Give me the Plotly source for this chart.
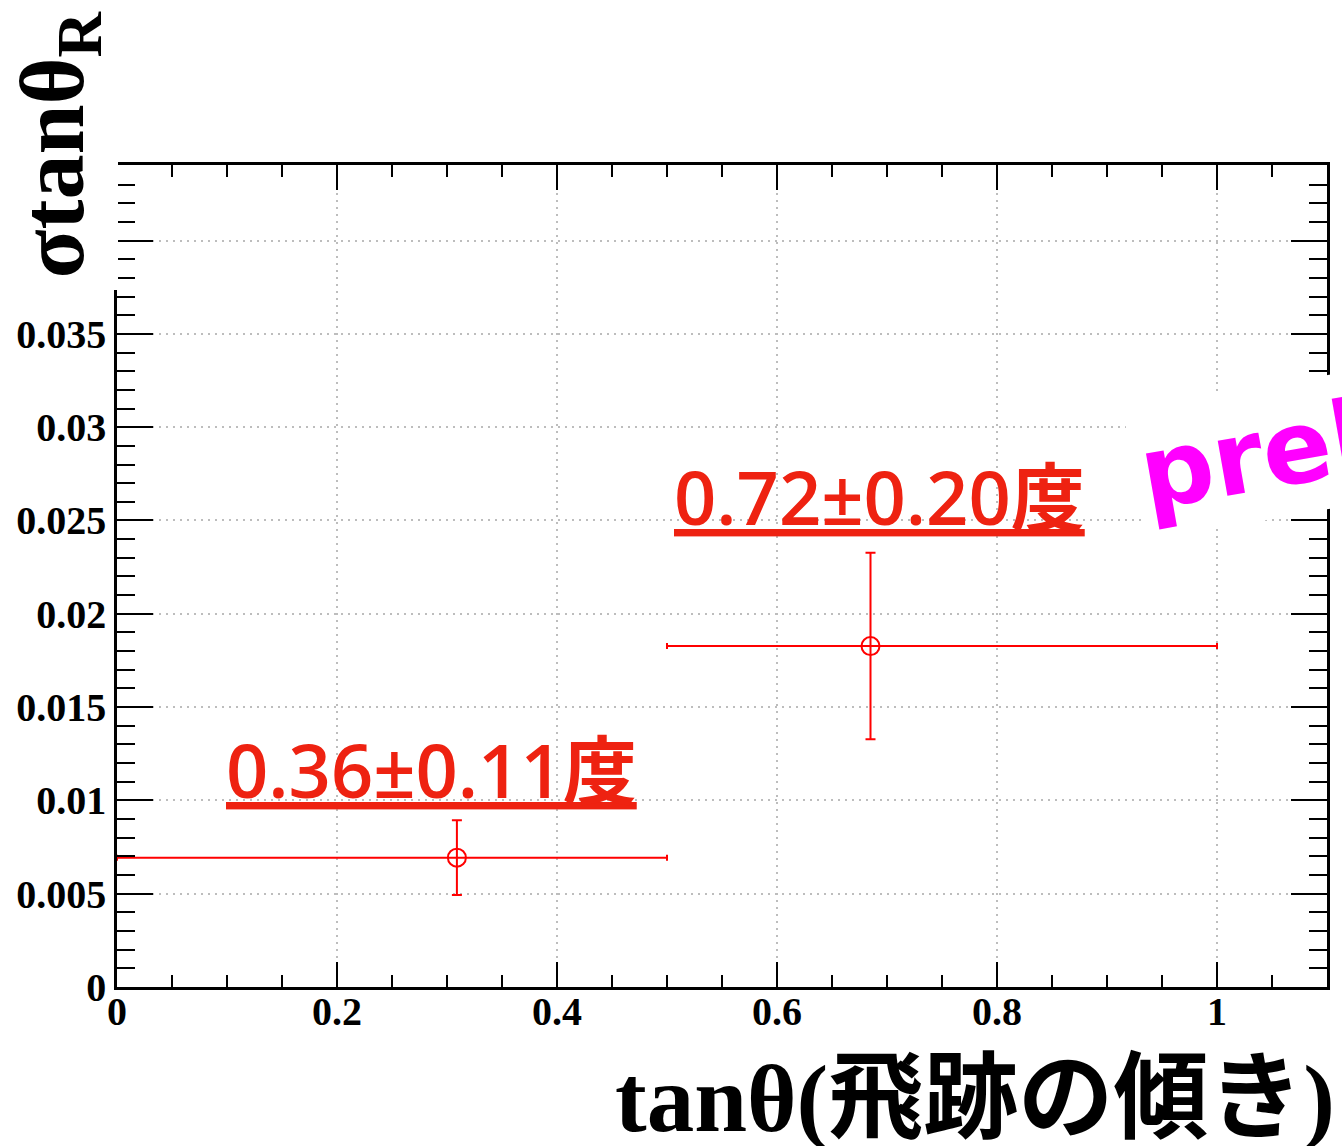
import plotly.graph_objects as go

# ---- data ----
x_mean = [0.309, 0.685]
bin_low = [0.0, 0.5]
bin_high = [0.5, 1.0]
sigma = [0.00693, 0.01827]
sigma_err = [0.0020, 0.0050]
label_texts = ["0.36±0.11度", "0.72±0.20度"]
x_ticks = [0, 0.2, 0.4, 0.6, 0.8, 1.0]
y_ticks = [0, 0.005, 0.01, 0.015, 0.02, 0.025, 0.03, 0.035, 0.04]
x_range = [0, 1.1]
y_range = [0, 0.04405]
x_title = "tanθ(飛跡の傾き)"
y_title = "σtanθ<sub>R</sub>"
stamp = "preliminary"

# ---- layout geometry (pixels) ----
W, H = 1342, 1146
L, Rr, T, B = 117, 1327, 165, 987


def px(x):
    return (x - L) / (Rr - L)


def py(y):
    return (B - y) / (B - T)


err_plus = [h - m for h, m in zip(bin_high, x_mean)]
err_minus = [m - l for m, l in zip(x_mean, bin_low)]

RED = "#ff0000"
fig = go.Figure()
fig.add_trace(go.Scatter(
    x=x_mean, y=sigma, mode="markers",
    marker=dict(symbol="circle-open", size=18, color=RED, line=dict(width=2, color=RED)),
    error_x=dict(type="data", symmetric=False, array=err_plus, arrayminus=err_minus,
                 color=RED, thickness=2, width=3),
    error_y=dict(type="data", array=sigma_err, color=RED, thickness=2, width=5),
    showlegend=False,
    cliponaxis=False,
))

tickfont = dict(family="Liberation Serif", size=40, color="black", weight="bold")
grid = dict(showgrid=True, gridcolor="#bdbdbd", gridwidth=1.5, griddash="2px,5px")

fig.update_xaxes(
    range=x_range, tickvals=x_ticks, ticks="inside", ticklen=25, tickwidth=2, tickcolor="black",
    minor=dict(dtick=0.05, tick0=0, ticks="inside", ticklen=12, tickwidth=2, tickcolor="black", showgrid=False),
    showline=True, linewidth=2.5, linecolor="black", mirror="allticks", zeroline=False,
    tickfont=tickfont, ticklabelstandoff=-13, **grid,
)
fig.update_yaxes(
    range=y_range, tickvals=y_ticks, ticks="inside", ticklen=36, tickwidth=2, tickcolor="black",
    minor=dict(dtick=0.001, tick0=0, ticks="inside", ticklen=18, tickwidth=2, tickcolor="black", showgrid=False),
    showline=True, linewidth=2.5, linecolor="black", mirror="allticks", zeroline=False,
    tickfont=tickfont, **grid,
)

ann = []
# red labels
label_pos = [(224, 769), (672, 496)]
for txt, (lx, ly) in zip(label_texts, label_pos):
    ann.append(dict(
        text="<u>" + txt + "</u>", xref="paper", yref="paper", x=px(lx), y=py(ly),
        xanchor="left", yanchor="middle", showarrow=False,
        font=dict(family="Open Sans, Noto Sans CJK JP", size=74, color="#ee2211", weight=600),
    ))
# stamp
ann.append(dict(
    text=stamp, xref="paper", yref="paper", x=px(1123), y=py(542),
    xanchor="left", yanchor="bottom", showarrow=False, textangle=-10,
    font=dict(family="DejaVu Sans", size=102, color="#ff00ff", weight="bold"),
    bgcolor="white", borderpad=6,
))
# y title with white backing box
ann.append(dict(
    text=y_title, xref="paper", yref="paper", x=px(58.5), y=py(145),
    xanchor="center", yanchor="middle", showarrow=False, textangle=-90,
    width=290, height=117, bgcolor="white", borderpad=0,
    font=dict(family="Liberation Serif", size=90, color="black", weight="bold"),
))
# x title
ann.append(dict(
    text=x_title, xref="paper", yref="paper", x=px(1337), y=py(1099),
    xanchor="right", yanchor="middle", showarrow=False,
    font=dict(family="Liberation Serif, Noto Sans CJK JP", size=95, color="black", weight="bold"),
))

fig.update_layout(
    width=W, height=H,
    margin=dict(l=L, r=W - Rr, t=T, b=H - B, autoexpand=False),
    paper_bgcolor="white", plot_bgcolor="white",
    annotations=ann,
)

fig.write_html("out.html")
